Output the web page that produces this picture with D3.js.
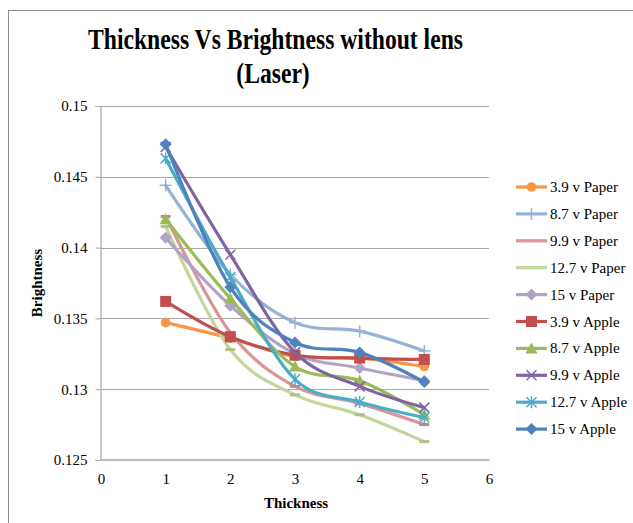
<!DOCTYPE html>
<html>
<head>
<meta charset="utf-8">
<script src="https://cdn.jsdelivr.net/npm/d3@7"></script>
<style>
  html, body { margin: 0; padding: 0; background: #fff; }
  svg { display: block; }
  text { font-family: "Liberation Serif", "DejaVu Serif", serif; fill: #000; }
</style>
</head>
<body>
<svg id="chart" width="633" height="523"></svg>
<script>
// ---- data ----
const thickness = [1, 2, 3, 4, 5];
const seriesNames = ["3.9 v Paper", "8.7 v Paper", "9.9 v Paper", "12.7 v Paper", "15 v Paper",
                     "3.9 v Apple", "8.7 v Apple", "9.9 v Apple", "12.7 v Apple", "15 v Apple"];
const paper39  = [0.1347, 0.1336, 0.1323, 0.1322, 0.1316];
const paper87  = [0.1444, 0.1381, 0.1347, 0.1341, 0.1327];
const paper99  = [0.1422, 0.1340, 0.1302, 0.1290, 0.1275];
const paper127 = [0.1415, 0.1328, 0.1296, 0.1282, 0.1263];
const paper15  = [0.1407, 0.1359, 0.1325, 0.1315, 0.1306];
const apple39  = [0.1362, 0.1337, 0.1324, 0.1322, 0.1321];
const apple87  = [0.1420, 0.1364, 0.1316, 0.1306, 0.1282];
const apple99  = [0.1471, 0.1395, 0.1326, 0.1302, 0.1287];
const apple127 = [0.1463, 0.1379, 0.1307, 0.1291, 0.1280];
const apple15  = [0.1473, 0.1372, 0.1333, 0.1326, 0.1305];
const xTicks = [0, 1, 2, 3, 4, 5, 6];
const yTicks = [0.125, 0.13, 0.135, 0.14, 0.145, 0.15];

const seriesValues = [paper39, paper87, paper99, paper127, paper15, apple39, apple87, apple99, apple127, apple15];
const colors  = ["#F79646", "#95B3D7", "#D99694", "#C3D69B", "#B3A2C7",
                 "#C0504D", "#9BBB59", "#8064A2", "#4BACC6", "#4F81BD"];
const markers = ["circle", "plus", "dash", "dash", "diamond",
                 "square", "triangle", "x", "asterisk", "diamond"];

const series = seriesNames.map((name, i) => ({
  name, color: colors[i], marker: markers[i],
  points: thickness.map((t, j) => ({ x: t, y: seriesValues[i][j] }))
}));

const svg = d3.select("#chart");

// chart border
svg.append("rect").attr("x", 8.5).attr("y", 10.5).attr("width", 700).attr("height", 600)
  .attr("fill", "none").attr("stroke", "#8c8c8c").attr("stroke-width", 1);

const x = d3.scaleLinear().domain([0, 6]).range([101, 489]);
const y = d3.scaleLinear().domain([0.125, 0.15]).range([460, 106]);

// gridlines
svg.append("g").selectAll("line").data(yTicks.slice(1)).join("line")
  .attr("x1", x(0)).attr("x2", x(6))
  .attr("y1", d => Math.round(y(d)) + 0.5).attr("y2", d => Math.round(y(d)) + 0.5)
  .attr("stroke", "#a6a6a6").attr("stroke-width", 1.2);

// y axis
const yAxis = d3.axisLeft(y).tickValues(yTicks).tickFormat(d => d3.format("")(+d.toFixed(3))).tickSize(5).tickPadding(8);
const gy = svg.append("g").attr("transform", `translate(${x(0) - 0.5},0)`).call(yAxis);
gy.select(".domain").attr("stroke", "#a6a6a6").attr("stroke-width", 1.2);
gy.selectAll(".tick line").attr("stroke", "#a6a6a6");
gy.selectAll(".tick text").style("font-family", "Liberation Serif").style("font-size", "15px").attr("fill", "#222");

// x axis
const xAxis = d3.axisBottom(x).tickValues(xTicks).tickFormat(d3.format("d")).tickSize(0).tickPadding(14);
const gx = svg.append("g").attr("transform", `translate(0,${Math.round(y(0.125)) - 0.5})`).call(xAxis);
gx.select(".domain").attr("stroke", "#a6a6a6").attr("stroke-width", 1.5);
gx.selectAll(".tick text").style("font-family", "Liberation Serif").style("font-size", "15px").attr("fill", "#222");

// lines
const line = d3.line().x(d => x(d.x)).y(d => y(d.y)).curve(d3.curveCardinal.tension(0));

function drawMarker(g, type, color, cx, cy, legend) {
  switch (type) {
    case "circle":
      g.append("circle").attr("cx", cx).attr("cy", cy).attr("r", 4.8).attr("fill", color);
      break;
    case "square":
      g.append("rect").attr("x", cx - 5.5).attr("y", cy - 5.5).attr("width", 11).attr("height", 11).attr("fill", color);
      break;
    case "diamond":
      g.append("path").attr("d", `M${cx},${cy - 6}L${cx + 6},${cy}L${cx},${cy + 6}L${cx - 6},${cy}Z`).attr("fill", color);
      break;
    case "triangle":
      g.append("path").attr("d", `M${cx},${cy - 6}L${cx + 6},${cy + 5}L${cx - 6},${cy + 5}Z`).attr("fill", color);
      break;
    case "plus":
      g.append("path").attr("d", `M${cx - 6},${cy}H${cx + 6}M${cx},${cy - 6}V${cy + 6}`)
        .attr("stroke", color).attr("stroke-width", 1.5).attr("fill", "none");
      break;
    case "x":
      g.append("path").attr("d", `M${cx - 5},${cy - 5}L${cx + 5},${cy + 5}M${cx - 5},${cy + 5}L${cx + 5},${cy - 5}`)
        .attr("stroke", color).attr("stroke-width", 1.5).attr("fill", "none");
      break;
    case "asterisk":
      g.append("path").attr("d", `M${cx - 5},${cy - 5}L${cx + 5},${cy + 5}M${cx - 5},${cy + 5}L${cx + 5},${cy - 5}M${cx},${cy - 6}V${cy + 6}`)
        .attr("stroke", color).attr("stroke-width", 1.5).attr("fill", "none");
      break;
    case "dash":
      if (!legend) {
        g.append("path").attr("d", `M${cx - 5},${cy}H${cx + 5}`)
          .attr("stroke", d3.color(color).darker(0.3)).attr("stroke-width", 3).attr("fill", "none");
      }
      break;
  }
}

const plot = svg.append("g");
series.forEach(s => {
  const g = plot.append("g");
  g.append("path").datum(s.points).attr("d", line)
    .attr("fill", "none").attr("stroke", s.color).attr("stroke-width", 3.2)
    .attr("stroke-linejoin", "round").attr("stroke-linecap", "round");
  s.points.forEach(p => drawMarker(g, s.marker, s.color, x(p.x), y(p.y), false));
});

// legend
const legend = svg.append("g");
series.forEach((s, i) => {
  const ly = 187 + i * 26.9;
  const g = legend.append("g");
  g.append("line").attr("x1", 516).attr("x2", 547).attr("y1", ly).attr("y2", ly)
    .attr("stroke", s.color).attr("stroke-width", 3.2);
  drawMarker(g, s.marker, s.color, 531.5, ly, true);
  g.append("text").attr("x", 550).attr("y", ly + 5).style("font-size", "15px").attr("fill", "#222").text(s.name);
});

// titles
const t1 = svg.append("text").attr("x", 275.5).attr("y", 49).attr("text-anchor", "middle")
  .style("font-size", "29px").style("font-weight", "bold").text("Thickness Vs Brightness without lens");
const w1 = t1.node().getComputedTextLength();
const r = 375 / w1;
t1.attr("textLength", 375).attr("lengthAdjust", "spacingAndGlyphs");
const t2 = svg.append("text").attr("x", 273).attr("y", 83).attr("text-anchor", "middle")
  .style("font-size", "29px").style("font-weight", "bold").text("(Laser)");
const w2 = t2.node().getComputedTextLength();
t2.attr("textLength", w2 * r).attr("lengthAdjust", "spacingAndGlyphs");

// axis titles
svg.append("text").attr("x", 296).attr("y", 508).attr("text-anchor", "middle")
  .style("font-size", "15px").style("font-weight", "bold").text("Thickness");
svg.append("text").attr("transform", `translate(42,${(y(0.15) + y(0.125)) / 2}) rotate(-90)`)
  .attr("text-anchor", "middle").style("font-size", "15px").style("font-weight", "bold").text("Brightness");
</script>
</body>
</html>
